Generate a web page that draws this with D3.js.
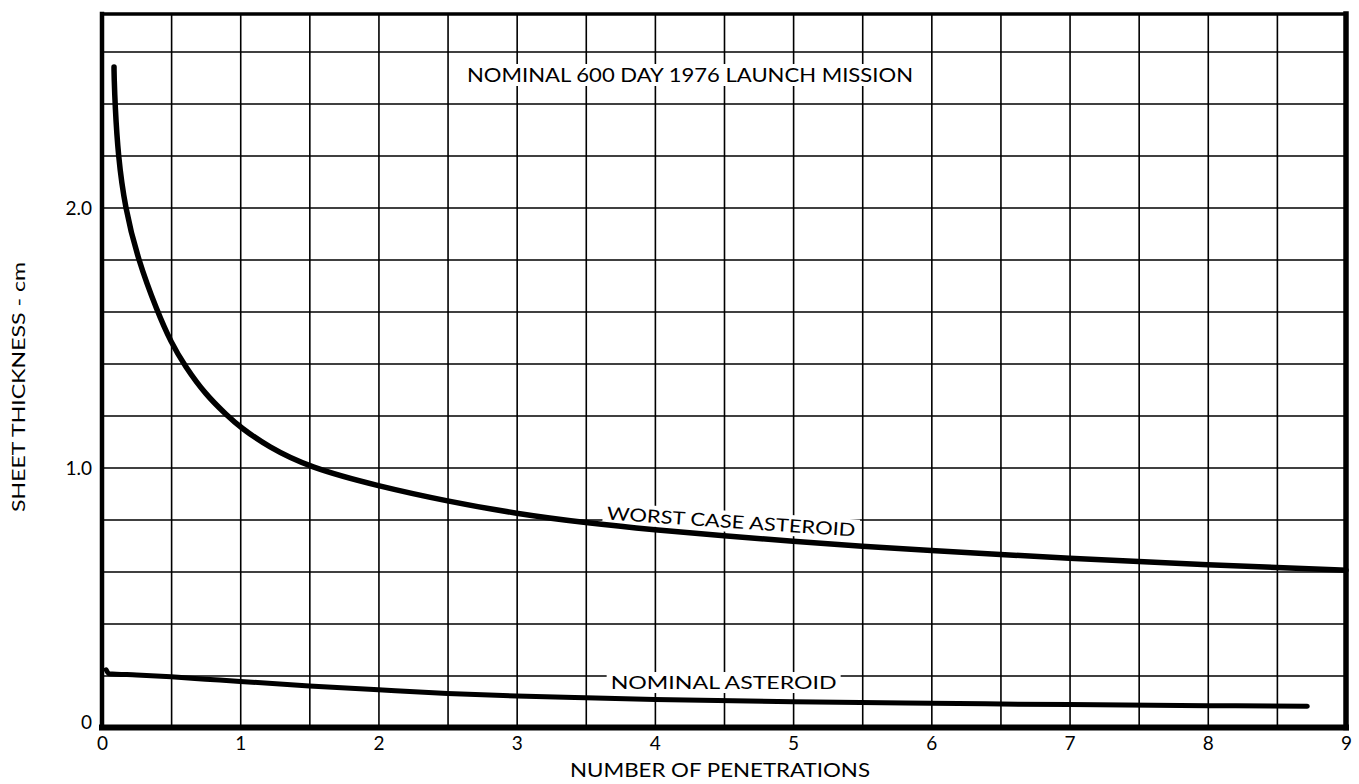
<!DOCTYPE html>
<html><head><meta charset="utf-8">
<script src="https://cdn.jsdelivr.net/npm/d3@7"></script>
<style>
html,body{margin:0;padding:0;background:#fff;}
svg{display:block;}
text{font-family:Lato,"DejaVu Sans",sans-serif;fill:#000;}
</style>
</head><body>
<svg id="chart" width="1359" height="784"></svg>
<script>
// ---- data ----
const xTickValues = [0,1,2,3,4,5,6,7,8,9];
const yTickValues = [0,1,2];
const yTickLabels = ["0","1.0","2.0"];
const worstX = [0.087,0.087,0.088,0.094,0.116,0.166,0.26,0.40,0.50,0.60,0.75,0.905,1.0,1.2,1.5,2.0,2.5,3.0,3.5,4.0,4.5,5.0,5.5,6.0,6.5,7.0,7.5,8.0,8.5,9.0];
const worstY = [2.54,2.53,2.50,2.40,2.20,2.00,1.80,1.60,1.48,1.39,1.28,1.20,1.155,1.08,1.00,0.928,0.87,0.822,0.787,0.76,0.737,0.716,0.697,0.68,0.665,0.651,0.638,0.626,0.615,0.605];
const nominalX = [0.03,0.05,0.25,0.5,0.75,1.0,1.5,2.0,2.5,3.0,3.5,4.0,5.0,6.0,7.0,8.0,8.72];
const nominalY = [0.222,0.207,0.202,0.195,0.186,0.177,0.16,0.145,0.131,0.121,0.114,0.108,0.099,0.093,0.088,0.084,0.082];
const titleText = "NOMINAL 600 DAY 1976 LAUNCH MISSION";
const xTitle = "NUMBER OF PENETRATIONS";
const yTitle = "SHEET THICKNESS - cm";
const worstLabel = "WORST CASE ASTEROID";
const nominalLabel = "NOMINAL ASTEROID";

// ---- layout ----
const L = 102, R = 1346, T = 14, B = 727.5;
const svg = d3.select("#chart");
const x = d3.scaleLinear().domain([0, 9]).range([L, R]);
const y = d3.scaleLinear().domain([0, 2.744]).range([B, T]);

// grid
const vGrid = d3.range(1, 18).map(i => i * 0.5);
const hGrid = d3.range(1, 14).map(i => +(i * 0.2).toFixed(1));
const gx = svg.append("g").attr("transform", `translate(0,${B})`)
  .call(d3.axisBottom(x).tickValues(vGrid).tickSize(-(B - T)).tickFormat(""));
const gy = svg.append("g").attr("transform", `translate(${L},0)`)
  .call(d3.axisLeft(y).tickValues(hGrid).tickSize(-(R - L)).tickFormat(""));
[gx, gy].forEach(g => {
  g.select(".domain").remove();
  g.selectAll("line").attr("stroke", "#000").attr("stroke-width", 1.6);
});

// labels with white backgrounds
function bgText(g, txt, size, len) {
  const t = g.append("text").attr("font-size", size).attr("textLength", len)
    .attr("lengthAdjust", "spacingAndGlyphs").text(txt);
  const bb = t.node().getBBox();
  g.insert("rect", "text").attr("x", bb.x - 4).attr("y", bb.y + 1)
    .attr("width", bb.width + 8).attr("height", bb.height - 1).attr("fill", "#fff");
  return t;
}
const tg = svg.append("g").attr("transform", "translate(467,82)");
bgText(tg, titleText, 19, 446);

// curve labels (backgrounds drawn before curves)
const wg = svg.append("g").attr("transform", `translate(${x(3.65)},${y(0.80)}) rotate(3.9)`);
bgText(wg, worstLabel, 18, 249);
const ng = svg.append("g").attr("transform", `translate(${x(3.68)},${y(0.148)})`);
bgText(ng, nominalLabel, 18, 226);

// curves
const smooth = d3.line().x(d => x(d[0])).y(d => y(d[1])).curve(d3.curveBasis);
const mono = d3.line().x(d => x(d[0])).y(d => y(d[1])).curve(d3.curveMonotoneX);
svg.append("path").datum(worstX.map((v, i) => [v, worstY[i]]))
  .attr("d", smooth).attr("fill", "none").attr("stroke", "#000")
  .attr("stroke-width", 5.5).attr("stroke-linecap", "round").attr("stroke-linejoin", "round");
svg.append("path").datum(nominalX.map((v, i) => [v, nominalY[i]]))
  .attr("d", mono).attr("fill", "none").attr("stroke", "#000")
  .attr("stroke-width", 5).attr("stroke-linecap", "round").attr("stroke-linejoin", "round");

// frame
const frame = svg.append("g").attr("stroke", "#000").attr("stroke-linecap", "square");
frame.append("line").attr("x1", L).attr("x2", R).attr("y1", T).attr("y2", T).attr("stroke-width", 3.5);
frame.append("line").attr("x1", L).attr("x2", L).attr("y1", T).attr("y2", B).attr("stroke-width", 4.5);
frame.append("line").attr("x1", R).attr("x2", R).attr("y1", T).attr("y2", B).attr("stroke-width", 5.5);
frame.append("line").attr("x1", L).attr("x2", R).attr("y1", B).attr("y2", B).attr("stroke-width", 6);

// x axis labels
const xa = svg.append("g").attr("transform", `translate(0,${B})`)
  .call(d3.axisBottom(x).tickValues(xTickValues).tickSize(0).tickFormat(d3.format("d")));
xa.select(".domain").remove();
xa.selectAll("text").attr("font-size", 19).attr("font-family", "Lato, DejaVu Sans, sans-serif")
  .attr("y", 22).attr("dy", 0).attr("fill", "#000");

// y axis labels
const ya = svg.append("g").attr("transform", `translate(${L},0)`)
  .call(d3.axisLeft(y).tickValues(yTickValues).tickSize(0).tickPadding(10)
    .tickFormat((d, i) => yTickLabels[i]));
ya.select(".domain").remove();
ya.selectAll("text").attr("font-size", 19).attr("font-family", "Lato, DejaVu Sans, sans-serif")
  .attr("fill", "#000").attr("dy", d => d === 0 ? "0.05em" : "0.35em");

// axis titles
svg.append("text").attr("x", (L + R) / 2 - 4).attr("y", 777).attr("text-anchor", "middle")
  .attr("font-size", 19).attr("textLength", 300).attr("lengthAdjust", "spacingAndGlyphs").text(xTitle);
svg.append("text").attr("transform", "translate(25,387) rotate(-90)").attr("text-anchor", "middle")
  .attr("font-size", 18).attr("textLength", 250).attr("lengthAdjust", "spacingAndGlyphs").text(yTitle);
</script>
</body></html>
